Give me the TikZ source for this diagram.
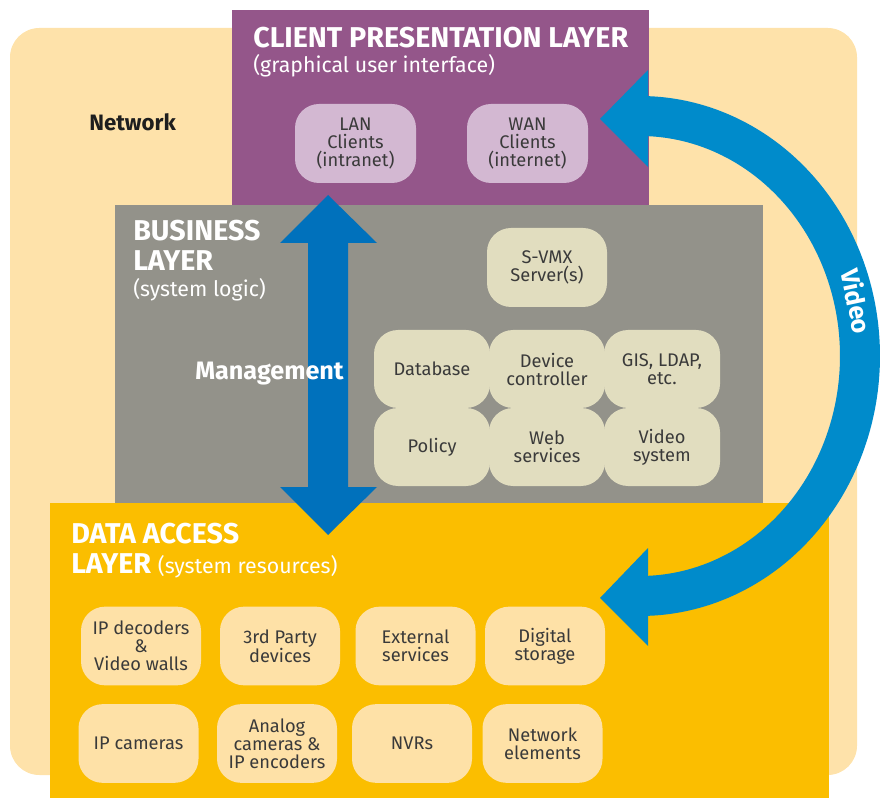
\documentclass[tikz,border=0pt]{standalone}
\usepackage{fontspec}
\setmainfont{Fira Sans}
\definecolor{netbg}{HTML}{FEE2AA}
\definecolor{clientc}{HTML}{94568A}
\definecolor{lavender}{HTML}{D3B8D2}
\definecolor{busc}{HTML}{93928A}
\definecolor{beige}{HTML}{E1DDBF}
\definecolor{datac}{HTML}{FBBE00}
\definecolor{peachbox}{HTML}{FEE1A7}
\definecolor{mgmtblue}{HTML}{0071BC}
\definecolor{videoblue}{HTML}{008BCB}
\definecolor{boxtext}{HTML}{3A3A3A}
\definecolor{nettext}{HTML}{1E1E1E}
\begin{document}
\begin{tikzpicture}[x=0.75pt,y=-0.75pt,
  layer/.style={draw=none, inner sep=0pt, outer sep=0pt},
  headtxt/.style={anchor=base west, inner sep=0pt, text=white, font=\fontsize{21.5}{24}\selectfont\bfseries},
  subtxt/.style={anchor=base west, inner sep=0pt, text=white, font=\fontsize{16}{18}\selectfont},
  box/.style={rounded corners=18pt, inner sep=0pt, align=center, text=boxtext,
    font=\fontsize{13.7}{13.5}\selectfont, minimum width=90pt, minimum height=59pt},
  bizbox/.style={box, fill=beige, minimum width=87pt, minimum height=58.5pt},
  lanbox/.style={box, fill=lavender, minimum width=90.75pt, minimum height=59.25pt},
  databox/.style={box, fill=peachbox},
]
\useasboundingbox (0,0) rectangle (889,798);

% layers
\node[layer, fill=netbg, rounded corners=22pt, minimum width=635.25pt, minimum height=560.25pt] (network) at (433.5,401.5) {};
\node[layer, fill=clientc, minimum width=312.75pt, minimum height=146.25pt] (client) at (440.5,107.5) {};
\node[layer, fill=busc, minimum width=486pt, minimum height=223.5pt] (business) at (439,354) {};
\node[layer, fill=datac, minimum width=584.25pt, minimum height=221.25pt] (data) at (439.5,650.5) {};

% titles
\node[headtxt] (ctitle) at (253,48) {CLIENT PRESENTATION LAYER};
\node[subtxt] (csub) at (253,73) {(graphical user interface)};
\node[anchor=base west, inner sep=0pt, text=nettext, font=\fontsize{16.7}{18}\selectfont\bfseries] (nettitle) at (89,131) {Network};
\node[headtxt] (btitle1) at (133,241) {BUSINESS};
\node[headtxt] (btitle2) at (133,271) {LAYER};
\node[subtxt] (bsub) at (133,297) {(system logic)};
\node[headtxt] (dtitle1) at (71,543) {DATA ACCESS};
\node[headtxt] (dtitle2) at (71,573) {LAYER {\fontsize{16}{18}\selectfont\mdseries (system resources)}};

% client boxes
\node[lanbox] (lan) at (355.5,143.5) {LAN\\Clients\\(intranet)};
\node[lanbox] (wan) at (527.5,143.5) {WAN\\Clients\\(internet)};

% business boxes
\node[bizbox, minimum width=90pt, minimum height=59.25pt] (svmx) at (547,267.5) {S-VMX\\Server(s)};
\node[bizbox] (db) at (432,369) {Database};
\node[bizbox] (devc) at (547,369) {Device\\controller};
\node[bizbox] (gis) at (662,369) {GIS, LDAP,\\etc.};
\node[bizbox] (policy) at (432,447) {Policy};
\node[bizbox] (web) at (547,447) {Web\\services};
\node[bizbox] (vsys) at (662,447) {Video\\system};

% data boxes
\node[databox] (ipdec) at (141,646) {IP decoders\\\&\\Video walls};
\node[databox] (third) at (280,646) {3rd Party\\devices};
\node[databox] (ext) at (415.5,646) {External\\services};
\node[databox] (dig) at (545,646) {Digital\\storage};
\node[databox] (ipcam) at (138.5,743.5) {IP cameras};
\node[databox] (analog) at (277,743.5) {Analog\\cameras \&\\IP encoders};
\node[databox] (nvr) at (412,743.5) {NVRs};
\node[databox] (netel) at (542.5,743.5) {Network\\elements};

% management arrow
\coordinate (mtop) at (328,195);
\coordinate (mbot) at (328,535);
\fill[mgmtblue] (mtop) -- ++(49,48) -- ++(-29,0) -- (348,487) -- ++(29,0) -- (mbot)
  -- ++(-48,-48) -- ++(28,0) -- (308,243) -- ++(-28,0) -- cycle;
\node[anchor=base west, inner sep=0pt, text=white, font=\fontsize{18.9}{20}\selectfont\bfseries] (mgmt) at (195,380) {Management};

% video arrow
\coordinate (vtop) at (600,119);
\coordinate (vbot) at (600,598);
\draw[videoblue, line width=30pt] plot[domain=-89.5:89.5, samples=80, smooth] ({640+220*cos(\x)}, {356+240*sin(\x)});
\fill[videoblue] (vtop) -- (648,70) -- (648,167) -- cycle;
\fill[videoblue] (vbot) -- (648,548) -- (648,646) -- cycle;
\node[rotate=-78, inner sep=0pt, text=white, font=\fontsize{19}{20}\selectfont\bfseries] (vlabel) at (857,301) {Video};
\end{tikzpicture}
\end{document}
